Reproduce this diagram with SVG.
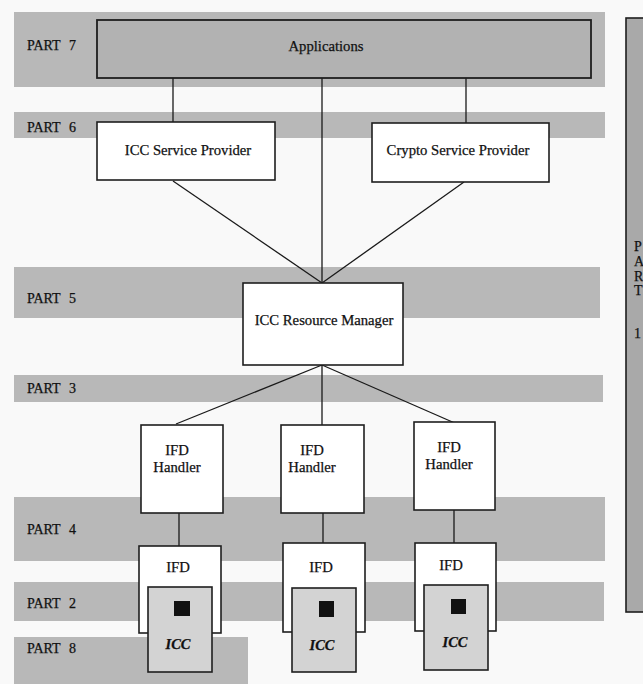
<svg xmlns="http://www.w3.org/2000/svg" width="643" height="684" viewBox="0 0 643 684">
<style>
text{font-family:"Liberation Serif","Times New Roman",serif;fill:#111;stroke:#111;stroke-width:0.25}
.part{font-size:14px;word-spacing:5px}
.lbl{font-size:14.7px;text-anchor:middle}
.icc{font-size:14.5px;font-style:italic;font-weight:bold;text-anchor:middle}
.band{fill:#b8b8b8}
.box{fill:#ffffff;stroke:#1e1e1e;stroke-width:1.6}
.cardbox{fill:#d3d3d3;stroke:#1e1e1e;stroke-width:1.6}
.conn line{stroke:#1a1a1a;stroke-width:1.3}
</style>
<rect width="643" height="684" fill="#f9f9f9"/>
<g id="bands">
<rect class="band" x="14" y="12" width="591" height="75"/>
<rect class="band" x="14" y="112" width="591" height="26"/>
<rect class="band" x="14" y="267" width="586" height="51"/>
<rect class="band" x="14" y="375" width="589" height="27"/>
<rect class="band" x="14" y="497" width="591" height="64"/>
<rect class="band" x="14" y="582" width="590" height="39"/>
<rect class="band" x="14" y="637" width="234" height="47"/>
</g>
<g id="part-labels">
<text class="part" x="27" y="50">PART 7</text>
<text class="part" x="27" y="132">PART 6</text>
<text class="part" x="27" y="303">PART 5</text>
<text class="part" x="27" y="393">PART 3</text>
<text class="part" x="27" y="534">PART 4</text>
<text class="part" x="27" y="608">PART 2</text>
<text class="part" x="27" y="653">PART 8</text>
</g>
<g id="side-panel">
<rect x="626" y="18" width="20" height="594" fill="#a9a9a9" stroke="#1e1e1e" stroke-width="1.6"/>
<text class="part" x="634" y="251">P</text>
<text class="part" x="634" y="266">A</text>
<text class="part" x="634" y="281">R</text>
<text class="part" x="634" y="295">T</text>
<text class="part" x="634" y="338">1</text>
</g>
<g id="connectors" class="conn">
<line x1="173" y1="78" x2="173" y2="122"/>
<line x1="466" y1="78" x2="466" y2="123"/>
<line x1="322" y1="78" x2="322" y2="283"/>
<line x1="173" y1="181" x2="322" y2="283"/>
<line x1="464" y1="182" x2="322" y2="283"/>
<line x1="322" y1="365" x2="176" y2="424"/>
<line x1="322" y1="365" x2="322" y2="425"/>
<line x1="322" y1="365" x2="457" y2="424"/>
<line x1="179" y1="513" x2="179" y2="546"/>
<line x1="323" y1="513" x2="323" y2="544"/>
<line x1="454" y1="510" x2="454" y2="543"/>
</g>
<g id="applications">
<rect x="97" y="20" width="494" height="58" fill="#b2b2b2" stroke="#1e1e1e" stroke-width="1.8"/>
<text class="lbl" x="326" y="51">Applications</text>
</g>
<g id="icc-service-provider">
<rect class="box" x="97" y="122" width="178" height="58"/>
<text class="lbl" x="188" y="155">ICC Service Provider</text>
</g>
<g id="crypto-service-provider">
<rect class="box" x="372" y="123" width="177" height="59"/>
<text class="lbl" x="458" y="155">Crypto Service Provider</text>
</g>
<g id="icc-resource-manager">
<rect class="box" x="243" y="283" width="160" height="82"/>
<text class="lbl" x="324" y="325">ICC Resource Manager</text>
</g>
<g id="ifd-handler-1">
<rect class="box" x="141" y="425" width="82" height="88"/>
<text class="lbl" x="177" y="455">IFD</text>
<text class="lbl" x="177" y="472">Handler</text>
</g>
<g id="ifd-handler-2">
<rect class="box" x="281" y="425" width="83" height="88"/>
<text class="lbl" x="312" y="455">IFD</text>
<text class="lbl" x="312" y="472">Handler</text>
</g>
<g id="ifd-handler-3">
<rect class="box" x="414" y="422" width="81" height="88"/>
<text class="lbl" x="449" y="452">IFD</text>
<text class="lbl" x="449" y="469">Handler</text>
</g>
<g id="ifd-1">
<rect class="box" x="139" y="546" width="82" height="87"/>
<text class="lbl" x="178" y="572">IFD</text>
</g>
<g id="ifd-2">
<rect class="box" x="283" y="543" width="82" height="89"/>
<text class="lbl" x="321" y="572">IFD</text>
</g>
<g id="ifd-3">
<rect class="box" x="415" y="543" width="81" height="88"/>
<text class="lbl" x="451" y="570">IFD</text>
</g>
<g id="icc-1">
<rect class="cardbox" x="148" y="587" width="64" height="85"/>
<rect x="174" y="601" width="16" height="15" fill="#111"/>
<text class="icc" x="178" y="649">ICC</text>
</g>
<g id="icc-2">
<rect class="cardbox" x="292" y="588" width="64" height="84"/>
<rect x="319" y="601" width="15" height="16" fill="#111"/>
<text class="icc" x="322" y="650">ICC</text>
</g>
<g id="icc-3">
<rect class="cardbox" x="424" y="585" width="64" height="85"/>
<rect x="451" y="599" width="15" height="15" fill="#111"/>
<text class="icc" x="455" y="647">ICC</text>
</g>
</svg>
